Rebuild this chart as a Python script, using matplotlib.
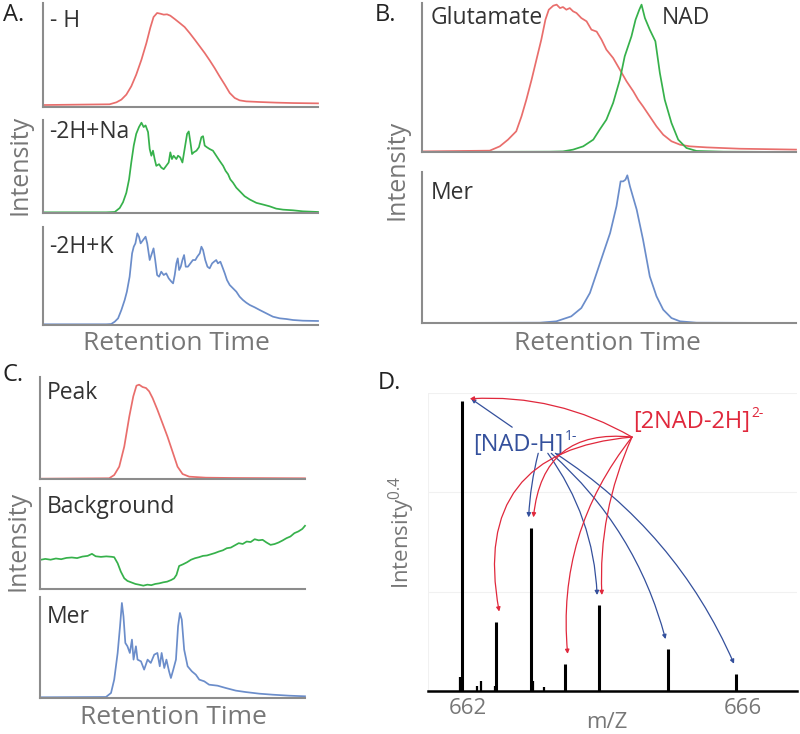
import numpy as np
import matplotlib
matplotlib.use("Agg")
import matplotlib.pyplot as plt

plt.rcParams['font.family'] = ['Open Sans', 'DejaVu Sans']
plt.rcParams['mathtext.fontset'] = 'custom'
plt.rcParams['mathtext.rm'] = 'Open Sans'
plt.rcParams['mathtext.it'] = 'Open Sans:italic'
plt.rcParams['mathtext.bf'] = 'Open Sans:bold'

# ---- panel A: adduct chromatograms (retention time in % of window, intensity in %)
a_h_x = [0, 24.2, 26.7, 28.5, 30.3, 32.1, 33.9, 35.8, 37.6, 39.0, 40.2, 41.5, 42.7, 43.9, 45.1, 46.3, 47.9, 49.7,
         51.5, 53.3, 55.2, 57.0, 58.8, 60.6, 62.4, 64.2, 66.1, 67.9, 69.7, 71.5, 73.9, 78.8, 84.8, 90.9, 100]
a_h_y = [1.9, 2.6, 4.5, 7.1, 11.9, 19.9, 31.1, 45.5, 61.5, 76.0, 86.5, 90.4, 89.7, 88.8, 89.1, 87.8, 84.6, 80.8,
         76.9, 71.2, 64.7, 58.3, 51.9, 44.9, 37.5, 29.5, 21.5, 13.5, 8.7, 6.4, 5.4, 4.8, 4.2, 3.8, 3.5]

a_na_x = [0, 23.0, 26.1, 27.9, 29.1, 30.3, 31.3, 32.1, 33.0, 33.9, 34.9, 35.8, 36.6, 37.3, 38.2, 38.8, 39.4, 40.0,
          40.6, 41.2, 42.2, 43.0, 43.9, 44.8, 45.7, 46.3, 46.9, 47.5, 48.5, 49.1, 49.9, 50.7, 51.5, 52.4, 53.0,
          53.6, 54.2, 54.8, 55.8, 56.7, 57.6, 58.2, 58.8, 59.6, 60.6, 61.8, 63.0, 64.2, 65.5, 66.4, 67.3, 68.1,
          69.1, 70.3, 71.5, 73.3, 75.2, 77.6, 80.0, 82.4, 84.8, 87.3, 90.9, 94.5, 100]
a_na_y = [0.7, 0.7, 1.1, 5.4, 11.6, 21.7, 36.2, 54.3, 72.5, 85.1, 92.4, 97.1, 92.4, 94.2, 87.0, 68.8, 61.6, 67.0,
          58.0, 50.7, 52.5, 48.9, 47.1, 50.7, 54.3, 65.2, 58.0, 61.6, 58.0, 61.6, 59.8, 54.3, 68.8, 85.1, 87.7,
          76.1, 63.4, 65.2, 67.0, 70.7, 81.5, 82.6, 72.5, 70.7, 68.8, 67.0, 61.6, 56.2, 50.7, 45.3, 41.7, 36.2,
          32.6, 27.2, 23.6, 18.1, 14.5, 10.9, 9.1, 7.2, 4.7, 3.6, 2.9, 1.8, 1.1]

a_k_x = [0, 23.0, 24.8, 26.1, 27.3, 28.5, 29.7, 30.5, 31.5, 32.4, 33.0, 33.6, 34.3, 34.9, 35.5, 36.4, 37.3, 37.9,
         38.8, 39.6, 40.2, 40.8, 41.5, 42.2, 43.0, 43.9, 44.8, 45.7, 46.7, 47.3, 47.9, 48.5, 49.0, 49.5, 50.1,
         50.7, 51.3, 51.9, 52.7, 53.6, 54.5, 55.4, 56.1, 57.0, 57.6, 58.2, 59.0, 59.8, 60.6, 61.5, 62.2, 63.0,
         63.6, 64.5, 65.2, 66.1, 66.9, 67.9, 69.1, 70.3, 71.5, 72.7, 73.9, 75.2, 77.0, 78.8, 81.2, 83.6, 86.1,
         88.5, 90.9, 94.5, 100]
a_k_y = [0.7, 0.7, 1.0, 3.4, 6.8, 15.3, 25.5, 34.0, 49.3, 73.1, 79.9, 83.3, 93.5, 90.1, 83.3, 86.7, 90.1, 83.3,
         66.3, 73.1, 78.2, 66.3, 51.0, 49.3, 54.4, 51.0, 52.7, 47.6, 44.2, 42.5, 51.0, 62.9, 68.0, 56.1, 59.5,
         66.3, 71.4, 59.5, 59.5, 62.9, 66.3, 66.3, 69.7, 73.1, 79.9, 76.5, 66.3, 59.5, 57.8, 62.9, 64.6, 66.3,
         62.9, 64.6, 59.5, 52.7, 45.9, 40.8, 37.4, 34.0, 28.9, 25.5, 22.8, 20.4, 18.0, 15.3, 11.9, 8.5, 6.8,
         6.1, 5.1, 4.4, 4.1]

# ---- panel B
b_glu_x = [0, 18.1, 20.8, 23.0, 25.2, 26.6, 27.9, 29.3, 30.6, 31.9, 33.0, 33.9, 35.1, 36.0, 36.9, 37.7, 38.6,
           39.5, 40.4, 41.3, 42.6, 44.0, 45.3, 46.7, 48.0, 49.3, 51.1, 52.9, 54.7, 56.5, 57.8, 59.1, 60.9, 62.7,
           64.5, 66.7, 69.0, 71.6, 76.1, 85.0, 100]
b_glu_y = [0.4, 0.9, 3.8, 8.3, 13.9, 23.9, 35.1, 48.5, 62.0, 75.4, 88.8, 95.5, 98.2, 98.9, 96.6, 97.3, 95.5,
           96.6, 94.4, 93.3, 89.9, 87.7, 82.1, 80.8, 75.4, 68.7, 63.1, 55.3, 47.4, 40.7, 35.1, 30.6, 23.9, 17.2,
           11.6, 7.2, 4.9, 3.8, 3.1, 2.2, 1.6]
b_nad_x = [0, 34.2, 37.7, 40.4, 43.1, 45.8, 47.5, 49.3, 51.1, 52.9, 54.2, 55.1, 56.0, 57.1, 58.1, 58.7, 59.6,
           60.9, 62.4, 63.6, 64.9, 66.7, 68.5, 70.7, 73.4, 80.6, 100]
b_nad_y = [0, 0.2, 0.4, 1.6, 3.8, 8.3, 15.0, 21.7, 32.9, 48.5, 64.2, 70.9, 77.6, 88.8, 95.5, 98.9, 89.9,
           82.1, 74.3, 53.0, 35.1, 19.5, 8.3, 2.7, 0.7, 0.2, 0]
b_mer_x = [0, 31.5, 35.9, 39.9, 42.6, 44.9, 46.7, 48.5, 50.3, 52.0, 53.1, 53.8, 54.4, 54.9, 55.6, 57.4, 59.1,
           60.9, 62.7, 64.5, 66.7, 69.0, 73.4, 100]
b_mer_y = [0, 0.2, 1.1, 4.4, 9.9, 19.9, 33.1, 46.4, 59.6, 77.3, 93.8, 93.8, 94.9, 97.8, 90.5, 75.1, 55.2,
           30.9, 17.7, 8.8, 3.3, 1.1, 0.2, 0]

# ---- panel C
c_peak_x = [0, 26.1, 28.0, 29.9, 31.8, 33.7, 35.2, 36.4, 37.4, 38.7, 40.0, 41.2, 42.5, 44.3, 46.2, 48.1, 50.0,
            51.9, 53.8, 56.3, 62.6, 72.6, 100]
c_peak_y = [0.3, 0.7, 3.9, 12.1, 31.8, 61.3, 81.0, 91.5, 92.5, 90.2, 89.2, 85.9, 79.3, 67.9, 54.8, 41.6, 26.9,
            12.1, 4.9, 2.3, 1.3, 1.0, 0.7]
c_bg_x = [0, 2, 4, 6, 8, 10, 12, 14, 16, 18, 19.6, 21, 23, 25, 27, 28, 29.3, 30.5, 31.8, 33, 34.5, 36, 37.5, 39,
          40.5, 42, 43.5, 45, 46.5, 48, 49.5, 50.6, 51.5, 52.5, 54, 55.5, 57, 58.5, 60, 61.5, 63, 64.5, 66, 67.5,
          69, 70.5, 72, 73.5, 75, 76.5, 78, 79.5, 81, 82.5, 84, 85.5, 87, 88.5, 90, 91.5, 93, 94.5, 96, 97.5,
          99, 100]
c_bg_y = [28.8, 29.8, 29.0, 30.2, 29.5, 30.8, 31.2, 30.6, 32.1, 32.8, 34.8, 32.4, 31.8, 32.3, 31.9, 31.5, 25.5,
          17.2, 10.6, 8.0, 6.5, 5.0, 4.2, 3.3, 4.3, 3.8, 5.0, 5.6, 6.6, 7.3, 8.9, 10.5, 14.0, 22.8, 24.5, 26.5,
          29.0, 30.5, 31.5, 32.8, 33.2, 34.4, 35.6, 37.1, 38.3, 40.4, 41.0, 43.2, 45.4, 44.6, 47.0, 46.5, 49.3,
          48.2, 48.7, 46.0, 43.7, 44.5, 46.0, 48.0, 50.3, 52.0, 55.3, 57.0, 59.5, 62.6]
c_mer_x = [0, 24.9, 26.8, 28.0, 29.3, 30.2, 30.9, 31.5, 32.2, 33.0, 33.9, 34.7, 35.3, 36.2, 36.8, 38.1, 39.3,
           40.6, 41.8, 43.1, 44.3, 45.2, 45.9, 46.9, 47.7, 48.7, 49.4, 50.3, 51.3, 52.1, 52.8, 53.5, 54.4, 55.7,
           57.3, 58.8, 60.1, 62.0, 63.8, 67.0, 70.1, 73.9, 77.6, 82.7, 87.7, 94.0, 100]
c_mer_y = [0.7, 1.0, 5.0, 18.2, 44.6, 71.0, 94.1, 80.9, 54.5, 51.2, 44.6, 57.8, 38.0, 51.2, 38.0, 36.3, 28.1,
           38.0, 34.7, 42.9, 44.6, 31.4, 44.6, 29.7, 38.0, 26.4, 19.8, 28.1, 38.0, 71.0, 84.2, 77.6, 47.9, 31.4,
           26.4, 23.1, 18.2, 16.5, 13.2, 12.2, 9.9, 7.3, 5.9, 4.3, 3.3, 2.3, 1.7]

# ---- panel D: spectrum (intensity^0.4, main peak = 1)
d_mz = [662.0, 662.5, 663.0, 663.5, 664.0, 665.0, 666.0]
d_int = [1.0, 0.239, 0.564, 0.093, 0.296, 0.144, 0.059]
d_minor_mz = [661.97, 662.22, 662.27, 662.48, 663.03, 663.19]
d_minor_int = [0.05, 0.017, 0.034, 0.017, 0.034, 0.014]
nad_peaks = [0, 2, 4, 5, 6]      # [NAD-H]1- isotopes
dimer_peaks = [0, 1, 2, 3, 4]    # [2NAD-2H]2- isotopes

RED = '#e96e6c'
GREEN = '#36b14b'
BLUE = '#6b8dca'
TXT = '#333333'
LAB = '#777777'
W, H = 800, 734

fig = plt.figure(figsize=(8, 7.34), dpi=100)


def px_axes(x0, y0, x1, y1):
    return fig.add_axes([x0 / W, 1 - y1 / H, (x1 - x0) / W, (y1 - y0) / H])


def style(ax):
    for s in ['top', 'right']:
        ax.spines[s].set_visible(False)
    for s in ['left', 'bottom']:
        ax.spines[s].set_color('#8c8c8c')
        ax.spines[s].set_linewidth(1.5)
    ax.set_xticks([])
    ax.set_yticks([])
    ax.set_xlim(0, 100)
    ax.set_ylim(0, 100)
    ax.patch.set_alpha(0)


def trace(ax, x, y, c, label, ly):
    ax.plot(x, y, color=c, lw=1.25, clip_on=False)
    ax.text(0.024, ly, label, transform=ax.transAxes, fontsize=16.5, color=TXT, va='center', ha='left')


# A
axA1 = px_axes(43, 3, 318, 107)
axA2 = px_axes(43, 120, 318, 213)
axA3 = px_axes(43, 227, 318, 325)
for ax in [axA1, axA2, axA3]:
    style(ax)
trace(axA1, a_h_x, a_h_y, RED, '- H', 0.83)
trace(axA2, a_na_x, a_na_y, GREEN, '-2H+Na', 0.87)
trace(axA3, a_k_x, a_k_y, BLUE, '-2H+K', 0.80)

# B
axB1 = px_axes(422, 3, 796, 152)
axB2 = px_axes(422, 172, 796, 323)
for ax in [axB1, axB2]:
    style(ax)
trace(axB1, b_glu_x, b_glu_y, RED, 'Glutamate', 0.90)
axB1.plot(b_nad_x, b_nad_y, color=GREEN, lw=1.25, clip_on=False)
axB1.text(0.642, 0.90, 'NAD', transform=axB1.transAxes, fontsize=16.5, color=TXT, va='center')
trace(axB2, b_mer_x, b_mer_y, BLUE, 'Mer', 0.86)

# C
axC1 = px_axes(40, 377, 305, 479)
axC2 = px_axes(40, 488, 305, 589)
axC3 = px_axes(40, 597, 305, 698)
for ax in [axC1, axC2, axC3]:
    style(ax)
trace(axC1, c_peak_x, c_peak_y, RED, 'Peak', 0.84)
trace(axC2, c_bg_x, c_bg_y, GREEN, 'Background', 0.81)
trace(axC3, c_mer_x, c_mer_y, BLUE, 'Mer', 0.80)

# D
axD = px_axes(428, 393, 797, 691)
ytop = 1.028
axD.set_xlim(661.50, 666.89)
axD.set_ylim(0, ytop)
for s in ['top', 'right', 'left']:
    axD.spines[s].set_visible(False)
axD.spines['bottom'].set_color('black')
axD.spines['bottom'].set_linewidth(1.8)
axD.set_yticks([ytop / 3, 2 * ytop / 3, ytop])
axD.set_yticklabels([])
axD.tick_params(axis='y', length=0)
axD.grid(axis='y', color='#f1f1f1', lw=0.8)
axD.axvline(661.50, color='#f1f1f1', lw=0.8)
axD.set_axisbelow(True)
axD.set_xticks([662.08, 666.1], ['662', '666'])
axD.tick_params(axis='x', length=0, pad=5, labelsize=16, labelcolor=LAB)
axD.vlines(d_mz, 0, d_int, color='black', lw=2.2)
axD.vlines(d_minor_mz, 0, d_minor_int, color='black', lw=1.6)

RED_A = '#e0283c'
BLUE_A = '#34509c'
t1 = axD.text(662.16, 0.848, '[NAD-H]', fontsize=17, color=BLUE_A, va='center', ha='left')
axD.annotate('1-', xy=(1, 0.86), xycoords=t1, xytext=(1, 0), textcoords='offset points',
             fontsize=10, color=BLUE_A, va='center', ha='left')
t2 = axD.text(664.50, 0.928, '[2NAD-2H]', fontsize=17, color=RED_A, va='center', ha='left')
axD.annotate('2-', xy=(1, 0.86), xycoords=t2, xytext=(1, 0), textcoords='offset points',
             fontsize=10, color=RED_A, va='center', ha='left')

blue_from = [(662.73, 0.91), (663.11, 0.82), (663.25, 0.82), (663.30, 0.82), (663.36, 0.82)]
blue_rad = [0.0, 0.05, -0.15, -0.15, -0.15]
for k, i in enumerate(nad_peaks):
    if i == 0:
        tip = (d_mz[i] + 0.13, d_int[i] + 0.008)
    else:
        tip = (d_mz[i] - 0.03, d_int[i] + 0.035)
    axD.annotate('', xy=tip, xytext=blue_from[k],
                 arrowprops=dict(arrowstyle='-|>', color=BLUE_A, lw=0.9, mutation_scale=6,
                                 shrinkA=0, shrinkB=0, connectionstyle='arc3,rad=%s' % blue_rad[k]))

red_from = (664.48, 0.876)
red_rad = [0.15, 0.55, 0.5, 0.2, 0.12]
for k, i in enumerate(dimer_peaks):
    if i == 0:
        tip = (d_mz[i] + 0.11, d_int[i] + 0.008)
    else:
        tip = (d_mz[i] + 0.04, d_int[i] + 0.035)
    axD.annotate('', xy=tip, xytext=red_from,
                 arrowprops=dict(arrowstyle='-|>', color=RED_A, lw=0.9, mutation_scale=6,
                                 shrinkA=0, shrinkB=0, connectionstyle='arc3,rad=%s' % red_rad[k]))

# shared labels
fig.text(3 / W, 1 - 15 / H, 'A.', fontsize=17, color='#222222', va='center', ha='left')
fig.text(375 / W, 1 - 15 / H, 'B.', fontsize=17, color='#222222', va='center', ha='left')
fig.text(3 / W, 1 - 375 / H, 'C.', fontsize=17, color='#222222', va='center', ha='left')
fig.text(378 / W, 1 - 383 / H, 'D.', fontsize=17, color='#222222', va='center', ha='left')

for x, y in [(20, 165), (397, 170), (18, 541)]:
    fig.text(x / W, 1 - y / H, 'Intensity', fontsize=18, color=LAB, rotation=90, va='center', ha='center')
for x, y in [(176, 344), (607, 344), (173, 718)]:
    fig.text(x / W, 1 - y / H, 'Retention Time', fontsize=19, color=LAB, va='center', ha='center')
fig.text(402 / W, 1 - 532 / H, 'Intensity$^{\\mathrm{0.4}}$', fontsize=16, color=LAB, rotation=90,
         va='center', ha='center')
fig.text(607 / W, 1 - 722 / H, 'm/Z', fontsize=16, color=LAB, va='center', ha='center')

fig.savefig('out.png', dpi=100)
